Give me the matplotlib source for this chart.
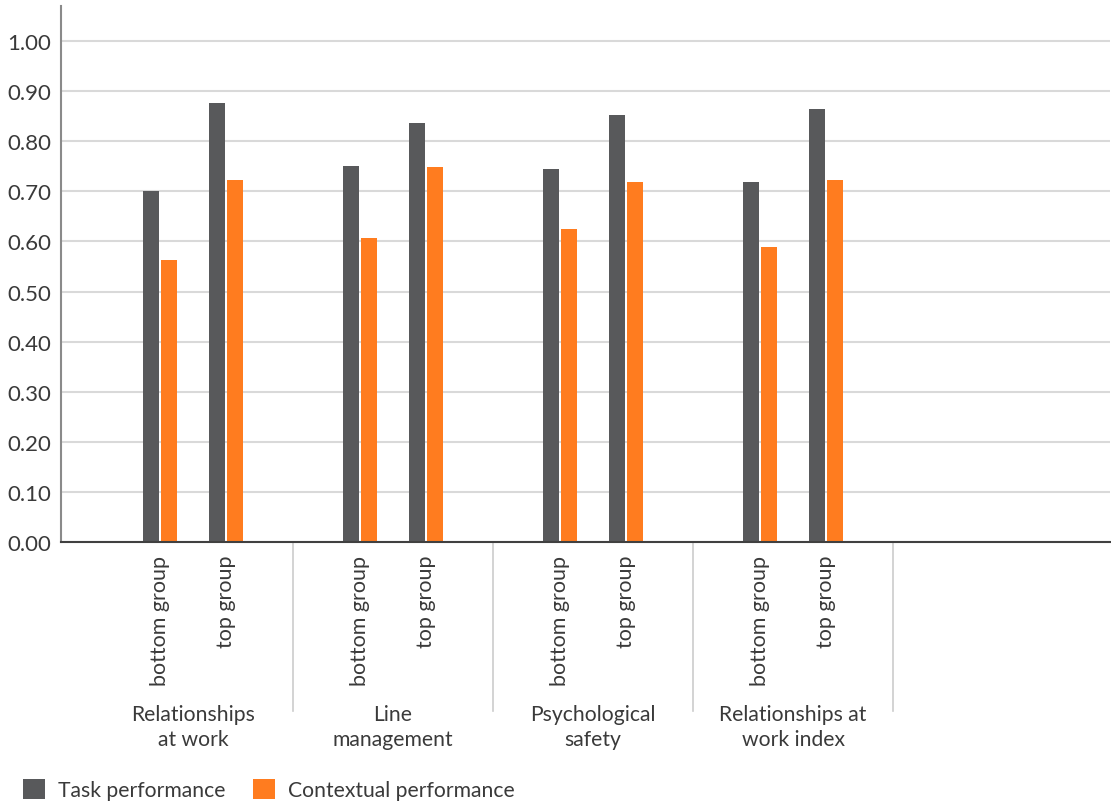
import matplotlib
matplotlib.use("Agg")
import matplotlib.pyplot as plt
import matplotlib.transforms as mtransforms
from matplotlib.patches import Patch

# ---- data ----
groups = ["Relationships\nat work", "Line\nmanagement", "Psychological\nsafety", "Relationships at\nwork index"]
subgroups = ["bottom group", "top group"]
task_perf = [0.700, 0.876, 0.751, 0.836, 0.744, 0.852, 0.718, 0.865]
contextual_perf = [0.562, 0.722, 0.607, 0.748, 0.625, 0.718, 0.589, 0.722]
series_names = ["Task performance", "Contextual performance"]
yticks = [0.0, 0.1, 0.2, 0.3, 0.4, 0.5, 0.6, 0.7, 0.8, 0.9, 1.0]

# ---- style ----
DARK = "#58595b"
ORANGE = "#ff7c1f"
TEXT = "#3a3a3a"
plt.rcParams["font.family"] = ["Lato", "DejaVu Sans"]

W, H = 1111, 803
fig = plt.figure(figsize=(W / 100, H / 100), dpi=100)
ax = fig.add_axes([61 / W, 1 - 543 / H, (1110 - 61) / W, (543 - 7) / H])

# slot positions: each group spans 3 slot units, bars sit at group_start + 1 and + 2
xpos = []
for gi in range(len(groups)):
    for sj in range(len(subgroups)):
        xpos.append(3 * gi + 1 + sj)

bw = 0.24
off = 0.135
ax.bar([x - off for x in xpos], task_perf, width=bw, color=DARK, zorder=3)
ax.bar([x + off for x in xpos], contextual_perf, width=bw, color=ORANGE, zorder=3)

ax.set_xlim(-0.48, 15.255)
ax.set_ylim(0, 1.07)
ax.set_yticks(yticks)
ax.set_yticklabels([f"{v:.2f}" for v in yticks], fontsize=16, color=TEXT)
ax.yaxis.grid(True, color="#d9d9d9", linewidth=1.5, zorder=0)
ax.set_axisbelow(True)
ax.tick_params(axis="y", length=0, pad=7)

ax.set_xticks(xpos)
ax.set_xticklabels([subgroups[i % 2] for i in range(len(xpos))], rotation=90,
                   fontsize=15.5, color=TEXT, va="top", ha="center")
ax.tick_params(axis="x", length=0, pad=9)

for s in ["top", "right"]:
    ax.spines[s].set_visible(False)
ax.spines["left"].set_color("#8a8a8a")
ax.spines["left"].set_linewidth(1.5)
ax.spines["bottom"].set_color("#404040")
ax.spines["bottom"].set_linewidth(1.5)
ax.spines["bottom"].set_zorder(4)

# group separators and labels below the axis
trans = mtransforms.blended_transform_factory(ax.transData, ax.transAxes)
sep_bottom = -(712 - 543) / (543 - 7)
for gi in range(1, len(groups) + 1):
    ax.plot([3 * gi, 3 * gi], [0, sep_bottom], transform=trans, color="#cccccc",
            linewidth=1.2, clip_on=False)
label_y = -(705 - 543) / (543 - 7)
for gi, g in enumerate(groups):
    ax.text(3 * gi + 1.5, label_y, g, transform=trans, ha="center", va="top",
            fontsize=15.2, color=TEXT, linespacing=1.3)

# legend
handles = [Patch(facecolor=DARK, edgecolor="none"), Patch(facecolor=ORANGE, edgecolor="none")]
fig.legend(handles, series_names, loc="lower left", bbox_to_anchor=(4 / W, -17 / H),
           ncol=2, frameon=False, fontsize=15.2, handlelength=1.05, handleheight=1.05,
           handletextpad=0.6, columnspacing=1.3, labelcolor=TEXT)

fig.savefig("out.png", dpi=100)
